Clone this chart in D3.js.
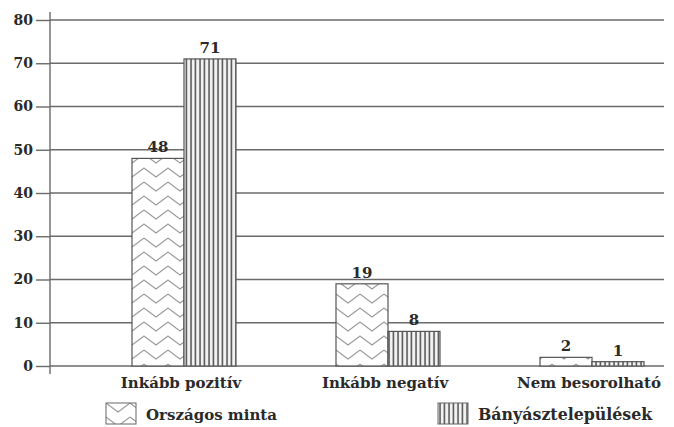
<!DOCTYPE html>
<html><head><meta charset="utf-8">
<script src="https://cdn.jsdelivr.net/npm/d3@7"></script>
<style>
html,body{margin:0;padding:0;background:#fff;}
svg{display:block;}
text{font-family:"DejaVu Serif",serif;font-weight:bold;fill:#2a2a2a;}
</style></head>
<body>
<svg id="chart" width="674" height="427"></svg>
<script>
const categories = ["Inkább pozitív", "Inkább negatív", "Nem besorolható"];
const seriesNames = ["Országos minta", "Bányásztelepülések"];
const orszagos = [48, 19, 2];
const banyasz = [71, 8, 1];
const yTicks = [0, 10, 20, 30, 40, 50, 60, 70, 80];

const svg = d3.select("#chart");
const defs = svg.append("defs");

// herringbone-like pattern
const p1 = defs.append("pattern").attr("id","zig").attr("patternUnits","userSpaceOnUse")
  .attr("width",24).attr("height",14);
p1.append("rect").attr("width",24).attr("height",14).attr("fill","#fff");
p1.append("path").attr("d","M0,0 L12,9 L24,0 M0,14 L12,23 L24,14 M0,-14 L12,-5 L24,-14")
  .attr("fill","none").attr("stroke","#9a9a9a").attr("stroke-width",1.1);
// vertical stripes
const p2 = defs.append("pattern").attr("id","vstripe").attr("patternUnits","userSpaceOnUse")
  .attr("width",4.5).attr("height",10);
p2.append("rect").attr("width",4.5).attr("height",10).attr("fill","#f4f4f4");
p2.append("line").attr("x1",2).attr("x2",2).attr("y1",0).attr("y2",10)
  .attr("stroke","#4a4a4a").attr("stroke-width",1.5);

const fills = ["url(#zig)", "url(#vstripe)"];
const seriesData = [orszagos, banyasz];

const mLeft = 50, mRight = 664, mTop = 20, mBottom = 366;
const y = d3.scaleLinear().domain([0, 80]).range([mBottom, mTop]);
const x = d3.scalePoint().domain(categories).range([184, 592]);
const x1 = d3.scaleBand().domain(seriesNames).range([-52, 52]);

// gridlines
svg.append("g").selectAll("line").data(yTicks).join("line")
  .attr("x1", mLeft).attr("x2", mRight)
  .attr("y1", d => y(d)).attr("y2", d => y(d))
  .attr("stroke", "#6a6a6a").attr("stroke-width", 1.4);

// y axis
const yAxis = d3.axisLeft(y).tickValues(yTicks).tickSize(14).tickPadding(3);
const gy = svg.append("g").attr("transform", `translate(${mLeft},0)`).call(yAxis);
gy.select(".domain").remove();
gy.selectAll(".tick line").attr("stroke","#6a6a6a").attr("stroke-width",1.4);
gy.selectAll(".tick text").style("font-size","14px").attr("fill","#2a2a2a");
svg.append("line").attr("x1",mLeft).attr("x2",mLeft).attr("y1",y(80)-8).attr("y2",y(0)+8)
  .attr("stroke","#6a6a6a").attr("stroke-width",1.4);

// bars
const rows = [];
categories.forEach((c, i) => seriesNames.forEach((s, j) => rows.push({c, s, j, v: seriesData[j][i]})));
svg.append("g").selectAll("rect").data(rows).join("rect")
  .attr("x", d => x(d.c) + x1(d.s))
  .attr("width", x1.bandwidth())
  .attr("y", d => y(d.v))
  .attr("height", d => y(0) - y(d.v))
  .attr("fill", d => fills[d.j])
  .attr("stroke", "#555").attr("stroke-width", 1.2);

// value labels
svg.append("g").selectAll("text").data(rows).join("text")
  .attr("x", d => x(d.c) + x1(d.s) + x1.bandwidth()/2)
  .attr("y", d => y(d.v) - 6)
  .attr("text-anchor","middle")
  .style("font-size","15px")
  .text(d => d.v);

// category labels
svg.append("g").selectAll("text").data(categories).join("text")
  .attr("x", d => x(d) - 3)
  .attr("y", 388)
  .attr("text-anchor","middle")
  .style("font-size","15px")
  .text(d => d);

// legend
const legendX = [106, 438];
const lg = svg.append("g").selectAll("g").data(seriesNames).join("g")
  .attr("transform", (d, i) => `translate(${legendX[i]},403)`);
lg.append("rect").attr("width", 30).attr("height", 21)
  .attr("fill", (d, i) => fills[i]).attr("stroke", "#666").attr("stroke-width", 1);
lg.append("text").attr("x", 40).attr("y", 17)
  .style("font-size", (d, i) => i === 0 ? "15px" : "15.8px").text(d => d);
</script>
</body></html>
